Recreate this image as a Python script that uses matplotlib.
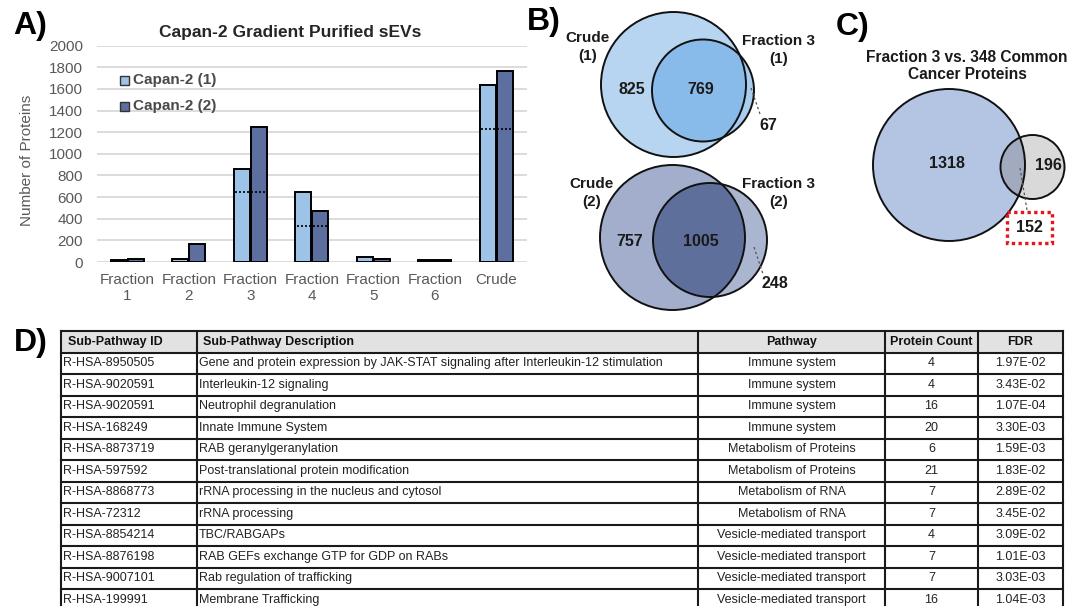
import matplotlib
matplotlib.use("Agg")
import matplotlib.pyplot as plt
from matplotlib.patches import Circle, Rectangle
import numpy as np

plt.rcParams['font.family'] = ['Liberation Sans', 'DejaVu Sans']

# ---------------- data ----------------
categories = ["Fraction\n1", "Fraction\n2", "Fraction\n3", "Fraction\n4",
              "Fraction\n5", "Fraction\n6", "Crude"]
capan2_rep1 = [15, 30, 861, 648, 50, 15, 1640]
capan2_rep2 = [30, 165, 1250, 472, 30, 22, 1765]
shared_reps = [np.nan, np.nan, 648, 330, np.nan, np.nan, 1229]
y_ticks = [0, 200, 400, 600, 800, 1000, 1200, 1400, 1600, 1800, 2000]
series_names = ["Capan-2 (1)", "Capan-2 (2)"]

venn_rep1 = [825, 769, 67]      # crude only, shared, fraction 3 only
venn_rep2 = [757, 1005, 248]
venn_cancer = [1318, 152, 196]  # fraction 3 only, shared, cancer set only

col_headers = ["Sub-Pathway ID", "Sub-Pathway Description", "Pathway",
               "Protein Count", "FDR"]
sub_ids = ["R-HSA-8950505", "R-HSA-9020591", "R-HSA-9020591", "R-HSA-168249",
           "R-HSA-8873719", "R-HSA-597592", "R-HSA-8868773", "R-HSA-72312",
           "R-HSA-8854214", "R-HSA-8876198", "R-HSA-9007101", "R-HSA-199991"]
sub_desc = ["Gene and protein expression by JAK-STAT signaling after Interleukin-12 stimulation",
            "Interleukin-12 signaling", "Neutrophil degranulation", "Innate Immune System",
            "RAB geranylgeranylation", "Post-translational protein modification",
            "rRNA processing in the nucleus and cytosol", "rRNA processing",
            "TBC/RABGAPs", "RAB GEFs exchange GTP for GDP on RABs",
            "Rab regulation of trafficking", "Membrane Trafficking"]
pathways = ["Immune system"] * 4 + ["Metabolism of Proteins"] * 2 + \
           ["Metabolism of RNA"] * 2 + ["Vesicle-mediated transport"] * 4
protein_counts = [4, 4, 16, 20, 6, 21, 7, 7, 4, 7, 7, 16]
fdr_values = [1.97e-2, 3.43e-2, 1.07e-4, 3.30e-3, 1.59e-3, 1.83e-2,
              2.89e-2, 3.45e-2, 3.09e-2, 1.01e-3, 3.03e-3, 1.04e-3]

# ---------------- figure ----------------
W, H = 1083, 606
fig = plt.figure(figsize=(W / 100, H / 100), dpi=100)

light = "#9dc3e6"
dark = "#5c6f9e"
gray_txt = "#595959"

# panel A: bar chart
ax_l, ax_r, ax_t, ax_b = 96.75, 527, 45.7, 262
ax = fig.add_axes([ax_l / W, 1 - ax_b / H, (ax_r - ax_l) / W, (ax_b - ax_t) / H])
x = np.arange(len(categories))
bw, off = 0.26, 0.138
ax.bar(x - off, capan2_rep1, width=bw, color=light, edgecolor="black",
       linewidth=1.4, zorder=3)
ax.bar(x + off, capan2_rep2, width=bw, color=dark, edgecolor="black",
       linewidth=1.4, zorder=3)
for xi, v in zip(x, shared_reps):
    if not np.isnan(v):
        ax.hlines(v, xi - off - bw / 2 + 0.02, xi + off + bw / 2 - 0.02,
                  colors="black", linestyles=(0, (1.2, 1.2)), linewidth=1.2, zorder=4)
ax.set_xlim(-0.5, len(categories) - 0.5)
ax.set_ylim(0, 2000)
ax.set_yticks(y_ticks)
ax.set_xticks(x)
ax.set_xticklabels(categories, linespacing=1.2)
ax.yaxis.grid(True, color="#d9d9d9", linewidth=1.3)
ax.set_axisbelow(True)
for s in ax.spines.values():
    s.set_visible(False)
ax.tick_params(axis="both", length=0, labelcolor=gray_txt, labelsize=11)
ax.tick_params(axis="y", pad=10)
ax.tick_params(axis="x", pad=8)
ax.set_ylabel("Number of Proteins", fontsize=11, color=gray_txt)
ax.yaxis.set_label_coords(-0.146, 0.47)

# overlay in pixel coordinates
ov = fig.add_axes([0, 0, 1, 1])
ov.set_xlim(0, W)
ov.set_ylim(H, 0)
ov.axis("off")

ov.text(290, 33, "Capan-2 Gradient Purified sEVs", ha="center", va="center",
        fontsize=12.5, fontweight="bold", color="#262626")
for i, (name, col) in enumerate(zip(series_names, [light, dark])):
    yy = 80 + i * 26
    ov.add_patch(Rectangle((120, yy - 4.5), 9, 9, facecolor=col,
                           edgecolor="#333333", linewidth=1.0))
    ov.text(133, yy, name, ha="left", va="center", fontsize=11,
            fontweight="bold", color="#4a4a4a")

for lbl, (px, py) in zip(["A)", "B)", "C)", "D)"],
                         [(13, 26), (527, 22), (836, 27), (14, 343)]):
    ov.text(px, py, lbl, ha="left", va="center", fontsize=23,
            fontweight="bold", color="black")


def venn(c1, r1, c2, r2, col_a, col_ab, col_b, counts, pos):
    # set B (fraction) only colour, then set A on top, then overlap clipped to A
    cb = Circle(c2, r2, facecolor=col_b, edgecolor="none", zorder=2)
    ov.add_patch(cb)
    ca = Circle(c1, r1, facecolor=col_a, edgecolor="none", zorder=3)
    ov.add_patch(ca)
    cab = Circle(c2, r2, facecolor=col_ab, edgecolor="none", zorder=4)
    ov.add_patch(cab)
    cab.set_clip_path(ca)
    ov.add_patch(Circle(c1, r1, fill=False, edgecolor="#111111", linewidth=1.4, zorder=5))
    ov.add_patch(Circle(c2, r2, fill=False, edgecolor="#111111", linewidth=1.4, zorder=5))
    for n, (tx, ty) in zip(counts, pos):
        ov.text(tx, ty, str(n), ha="center", va="center", fontsize=11.5,
                fontweight="bold", color="#1a1a1a", zorder=6)


def leader(p0, p1):
    ov.plot([p0[0], p1[0]], [p0[1], p1[1]], color="#555555", linewidth=0.9,
            linestyle=(0, (2, 2)), zorder=6)


# panel B, replicate 1
venn((673.5, 84.5), 72.5, (703, 90.5), 51,
     "#b7d5f0", "#88bbea", "#a9cdef", venn_rep1,
     [(632, 90), (701, 90), (768, 125)])
leader((751, 88), (760, 114))
ov.text(588, 47, "Crude\n(1)", ha="center", va="center", fontsize=11,
        fontweight="bold", linespacing=1.3, color="#1a1a1a")
ov.text(779, 50, "Fraction 3\n(1)", ha="center", va="center", fontsize=11,
        fontweight="bold", linespacing=1.3, color="#1a1a1a")

# panel B, replicate 2
venn((672.5, 237.5), 72.5, (710, 240), 57,
     "#a2aecb", "#5e6f9c", "#aab5cf", venn_rep2,
     [(630, 241), (701, 241), (775, 283)])
leader((754, 247), (763, 274))
ov.text(592, 193, "Crude\n(2)", ha="center", va="center", fontsize=11,
        fontweight="bold", linespacing=1.3, color="#1a1a1a")
ov.text(779, 193, "Fraction 3\n(2)", ha="center", va="center", fontsize=11,
        fontweight="bold", linespacing=1.3, color="#1a1a1a")

# panel C
ov.text(967, 66, "Fraction 3 vs. 348 Common\nCancer Proteins", ha="center",
        va="center", fontsize=11.2, fontweight="bold", linespacing=1.2,
        color="#1a1a1a")
venn((949, 165), 76, (1032.5, 167), 32,
     "#b4c5e4", "#a2aabf", "#d9d9d9", venn_cancer,
     [(947, 164), (1029, 228), (1048, 166)])
leader((1020, 168), (1027, 210))
ov.add_patch(Rectangle((1007, 212), 45, 31, fill=False, edgecolor="#e8141c",
                       linewidth=2.4, linestyle=(0, (1, 1)), zorder=6))

# panel D: table
col_edges = [61, 197, 698, 885, 978, 1063]
top, row_h = 331, 21.5
n_rows = len(sub_ids) + 1
line_col = "#1a1a1a"
ov.add_patch(Rectangle((col_edges[0], top), col_edges[-1] - col_edges[0], row_h,
                       facecolor="#e2e2e2", edgecolor="none", zorder=1))
for i in range(n_rows + 1):
    yy = top + i * row_h
    ov.plot([col_edges[0], col_edges[-1]], [yy, yy], color=line_col,
            linewidth=1.5, zorder=3, solid_capstyle="projecting")
for xe in col_edges:
    ov.plot([xe, xe], [top, top + n_rows * row_h], color=line_col,
            linewidth=1.5, zorder=3)

hy = top + row_h / 2
ov.text(col_edges[0] + 7, hy, col_headers[0], ha="left", va="center",
        fontsize=9, fontweight="bold", color="#111111")
ov.text(col_edges[1] + 6, hy, col_headers[1], ha="left", va="center",
        fontsize=9, fontweight="bold", color="#111111")
for j in (2, 3, 4):
    ov.text((col_edges[j] + col_edges[j + 1]) / 2, hy, col_headers[j],
            ha="center", va="center", fontsize=9, fontweight="bold",
            color="#111111")

for i in range(len(sub_ids)):
    yy = top + (i + 1.5) * row_h
    ov.text(col_edges[0] + 2, yy, sub_ids[i], ha="left", va="center",
            fontsize=9, color="#222222")
    ov.text(col_edges[1] + 2, yy, sub_desc[i], ha="left", va="center",
            fontsize=9, color="#222222")
    ov.text((col_edges[2] + col_edges[3]) / 2, yy, pathways[i], ha="center",
            va="center", fontsize=9, color="#222222")
    ov.text((col_edges[3] + col_edges[4]) / 2, yy, str(protein_counts[i]),
            ha="center", va="center", fontsize=9, color="#222222")
    ov.text((col_edges[4] + col_edges[5]) / 2, yy, "{:.2E}".format(fdr_values[i]),
            ha="center", va="center", fontsize=9, color="#222222")

fig.savefig("out.png", dpi=100, facecolor="white")
